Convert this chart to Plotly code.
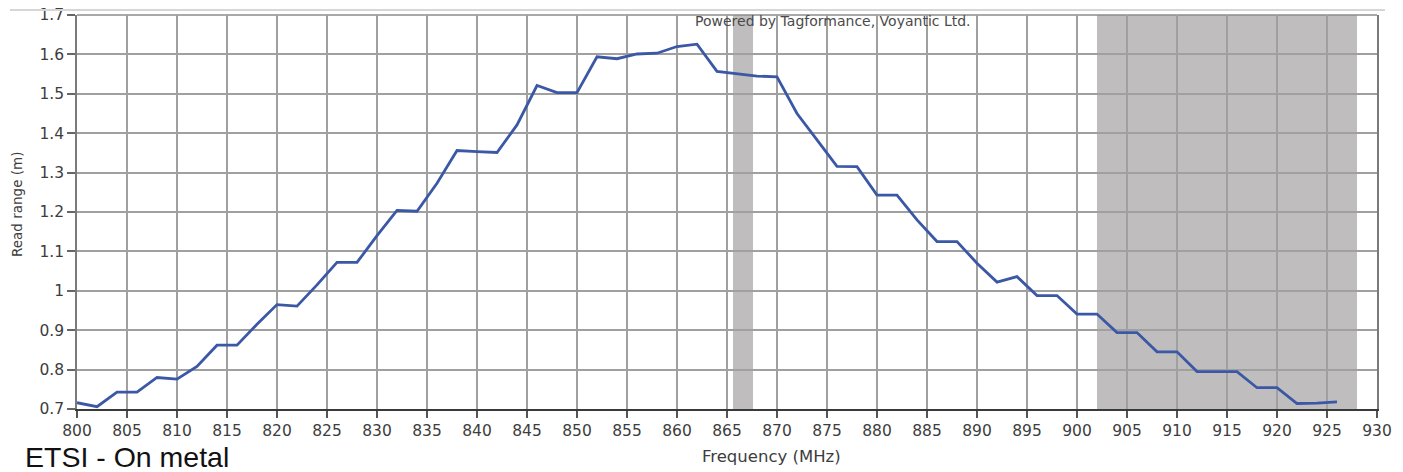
import plotly.graph_objects as go

# Frequency (MHz) and read range (m)
freq_mhz = [800, 802, 804, 806, 808, 810, 812, 814, 816, 818, 820, 822, 824, 826, 828,
            830, 832, 834, 836, 838, 840, 842, 844, 846, 848, 850, 852, 854, 856, 858,
            860, 862, 864, 866, 868, 870, 872, 874, 876, 878, 880, 882, 884, 886, 888,
            890, 892, 894, 896, 898, 900, 902, 904, 906, 908, 910, 912, 914, 916, 918,
            920, 922, 924, 926]
read_range_m = [0.716, 0.706, 0.743, 0.743, 0.780, 0.776, 0.808, 0.862, 0.862, 0.915,
                0.965, 0.961, 1.015, 1.072, 1.072, 1.140, 1.204, 1.202, 1.273, 1.356,
                1.353, 1.351, 1.421, 1.521, 1.503, 1.503, 1.594, 1.589, 1.601, 1.603,
                1.620, 1.626, 1.557, 1.551, 1.545, 1.543, 1.450, 1.383, 1.316, 1.315,
                1.243, 1.243, 1.180, 1.125, 1.125, 1.070, 1.022, 1.036, 0.988, 0.988,
                0.941, 0.941, 0.894, 0.894, 0.845, 0.845, 0.795, 0.795, 0.795, 0.754,
                0.754, 0.714, 0.715, 0.718]

# Shaded regulatory bands (MHz)
band_starts = [865.6, 902.0]
band_ends = [867.6, 928.0]

x_ticks = list(range(800, 931, 5))
y_ticks = [0.7, 0.8, 0.9, 1.0, 1.1, 1.2, 1.3, 1.4, 1.5, 1.6, 1.7]
y_tick_text = ["0.7", "0.8", "0.9", "1", "1.1", "1.2", "1.3", "1.4", "1.5", "1.6", "1.7"]

chart_title = "ETSI - On metal"
x_title = "Frequency (MHz)"
y_title = "Read range (m)"
credit = "Powered by Tagformance, Voyantic Ltd."

# plot-area placement in page pixels (body margin removed via post_script)
PX_L, PX_R, PX_T, PX_B = 77, 1377, 15, 409
PW, PH = PX_R - PX_L, PX_B - PX_T
FIG_W, FIG_H = 1403, 472


def px(xp):
    return (xp - PX_L) / PW


def py(yp):
    return (PX_B - yp) / PH


GRID = "#a0a0a0"

fig = go.Figure()
fig.add_trace(go.Scatter(
    x=freq_mhz, y=read_range_m, mode="lines",
    line=dict(color="#3b58a6", width=2.8),
    hoverinfo="x+y", showlegend=False,
))

for s, e in zip(band_starts, band_ends):
    fig.add_shape(type="rect", xref="x", yref="paper", x0=s, x1=e, y0=0, y1=1,
                  fillcolor="#bfbdbd", line=dict(width=0), layer="below")

# top border of the plot area (drawn like a grid line)
fig.add_shape(type="line", xref="paper", yref="paper", x0=0, x1=1, y0=1, y1=1,
              line=dict(color="#8c8c8c", width=1.7), layer="between")

# widget border line above the plot
fig.add_shape(type="line", xref="paper", yref="paper",
              x0=px(10), x1=px(1385), y0=py(10), y1=py(10),
              line=dict(color="#d6d6d6", width=2))

tick_font = dict(family="DejaVu Sans", size=15.5, color="#3d3d3d")

fig.update_xaxes(
    range=[800, 930], tickvals=x_ticks, ticktext=[str(v) for v in x_ticks],
    showgrid=True, gridcolor=GRID, gridwidth=1.7,
    showline=True, linecolor="#3a3a3a", linewidth=1.6,
    ticks="outside", ticklen=7, tickcolor="#555555", tickwidth=1.5,
    tickfont=tick_font, zeroline=False, fixedrange=True,
    ticklabeloverflow="allow", automargin=False,
)
fig.update_yaxes(
    range=[0.7, 1.7], tickvals=y_ticks, ticktext=y_tick_text,
    showgrid=True, gridcolor=GRID, gridwidth=1.7,
    showline=True, linecolor="#7a7a7a", linewidth=1.6, mirror=True,
    ticks="outside", ticklen=8, tickcolor="#666666", tickwidth=1.5,
    tickfont=tick_font, zeroline=False, fixedrange=True,
    ticklabeloverflow="allow", automargin=False,
)

fig.add_annotation(text=x_title, xref="paper", yref="paper",
                   x=px(771), y=py(457),
                   xanchor="center", yanchor="middle", showarrow=False,
                   font=dict(family="DejaVu Sans", size=16.5, color="#3d3d3d"))
fig.add_annotation(text=y_title, xref="paper", yref="paper",
                   x=px(17), y=py(205), textangle=-90,
                   xanchor="center", yanchor="middle", showarrow=False,
                   font=dict(family="DejaVu Sans", size=13.5, color="#3d3d3d"))
fig.add_annotation(text=credit, xref="paper", yref="paper",
                   x=px(832.5), y=py(21),
                   xanchor="center", yanchor="middle", showarrow=False,
                   font=dict(family="DejaVu Sans", size=14, color="#4a4a4a"))
fig.add_annotation(text=chart_title, xref="paper", yref="paper",
                   x=px(23), y=py(439),
                   xanchor="left", yanchor="top", showarrow=False,
                   font=dict(family="Liberation Sans", size=28.5, color="#111111"))

fig.update_layout(
    width=FIG_W, height=FIG_H,
    margin=dict(l=PX_L, r=FIG_W - PX_R, t=PX_T, b=FIG_H - PX_B, autoexpand=False),
    paper_bgcolor="white", plot_bgcolor="white",
    showlegend=False,
)

fig.write_html("out.html",
               config={"displayModeBar": False},
               post_script="document.body.style.margin='0px';")
